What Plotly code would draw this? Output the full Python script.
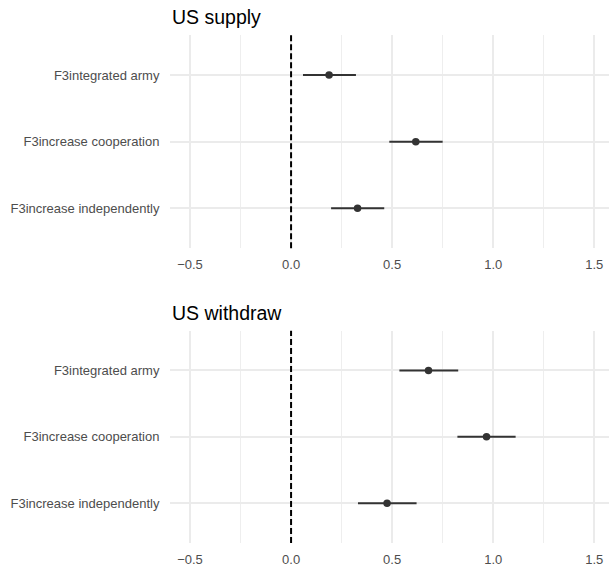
import plotly.graph_objects as go
from plotly.subplots import make_subplots

categories = ["F3integrated army", "F3increase cooperation", "F3increase independently"]
panel_titles = ["US supply", "US withdraw"]

supply_est = [0.188, 0.617, 0.329]
supply_lo = [0.059, 0.486, 0.198]
supply_hi = [0.321, 0.750, 0.461]

withdraw_est = [0.680, 0.967, 0.475]
withdraw_lo = [0.536, 0.823, 0.331]
withdraw_hi = [0.827, 1.111, 0.621]

x_ticks = [-0.5, 0.0, 0.5, 1.0, 1.5]
x_ticklabels = ["\u22120.5", "0.0", "0.5", "1.0", "1.5"]

fig = make_subplots(rows=2, cols=1, vertical_spacing=0.0)

panels = [(supply_est, supply_lo, supply_hi), (withdraw_est, withdraw_lo, withdraw_hi)]
domains = [[0.580, 1.0], [0.0, 0.418]]
ink = "#333333"
font_family = "Liberation Sans, Arial, sans-serif"

for i, (est, lo, hi) in enumerate(panels):
    r = i + 1
    fig.add_trace(go.Scatter(
        x=est, y=categories, mode="markers",
        marker=dict(color=ink, size=7.5),
        error_x=dict(type="data", symmetric=False,
                     array=[h - e for h, e in zip(hi, est)],
                     arrayminus=[e - l for e, l in zip(est, lo)],
                     color=ink, thickness=2, width=0),
        showlegend=False, hoverinfo="skip"), row=r, col=1)
    fig.update_xaxes(
        range=[-0.599, 1.573], tickvals=x_ticks, ticktext=x_ticklabels,
        showgrid=True, gridcolor="#EBEBEB", gridwidth=1.5,
        minor=dict(dtick=0.25, tick0=0, showgrid=True, gridcolor="#EEEEEE", gridwidth=1),
        zeroline=False, showline=False,
        ticks="outside", ticklen=4, tickcolor="rgba(0,0,0,0)",
        tickfont=dict(family=font_family, size=13, color="#4D4D4D"),
        domain=[0, 1], row=r, col=1)
    fig.update_yaxes(
        type="category", categoryorder="array", categoryarray=categories,
        range=[2.6, -0.6], showgrid=True, gridcolor="#EBEBEB", gridwidth=1.5,
        zeroline=False, showline=False,
        ticks="outside", ticklen=7, tickcolor="rgba(0,0,0,0)",
        tickfont=dict(family=font_family, size=13, color="#4D4D4D"),
        domain=domains[i], row=r, col=1)
    xref = "x" if r == 1 else "x2"
    yref = "y" if r == 1 else "y2"
    fig.add_shape(type="line", xref=xref, yref=yref + " domain",
                  x0=0, x1=0, y0=0, y1=1,
                  line=dict(color="black", width=2, dash="6px,3px"), layer="above")
    fig.add_annotation(text=panel_titles[i], xref="paper", yref="paper",
                       x=0, y=domains[i][1], xanchor="left", yanchor="bottom",
                       yshift=5, showarrow=False,
                       font=dict(family=font_family, size=19.5, color="black"))

fig.update_layout(
    width=609, height=569,
    margin=dict(l=170, r=0, t=35, b=26),
    plot_bgcolor="white", paper_bgcolor="white",
)

fig.write_html("out.html")
